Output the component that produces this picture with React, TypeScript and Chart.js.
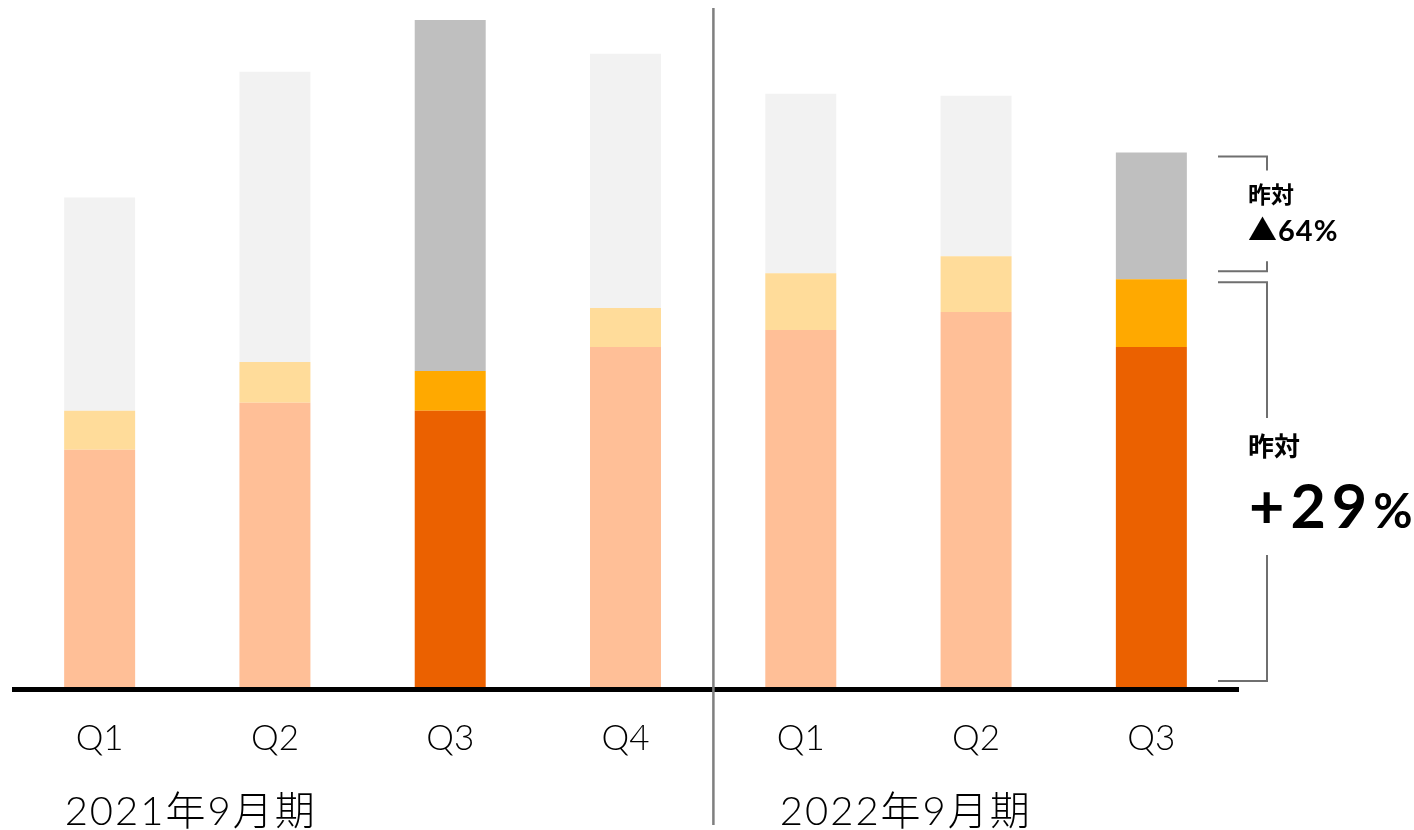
import React, { useEffect, useRef } from "react";
import { Chart, registerables } from "chart.js";

Chart.register(...registerables);

const quarters = ["Q1", "Q2", "Q3", "Q4", "Q1", "Q2", "Q3"];
const baseValues = [238, 285, 277, 341, 358, 376, 341];
const midValues = [39, 41, 40, 39, 57, 56, 68];
const topValues = [214, 291, 352, 255, 180, 161, 127];
const highlighted = [false, false, true, false, false, false, true];
const periodLabels = ["2021年9月期", "2022年9月期"];
const yoyTopLabel = ["昨対", "▲64%"];
const yoyBottomLabel = ["昨対", "+29", "%"];

const baseColor = highlighted.map((h) => (h ? "#EB6100" : "#FFBF97"));
const midColor = highlighted.map((h) => (h ? "#FFA900" : "#FFDC9A"));
const topColor = highlighted.map((h) => (h ? "#BFBFBF" : "#F2F2F2"));

const LATIN = "Lato, 'Noto Sans CJK JP', sans-serif";
const CJK = "'Noto Sans CJK JP', Lato, sans-serif";

const overlay = {
  id: "overlay",
  afterDatasetsDraw(chart: any) {
    const { ctx, chartArea } = chart;
    const x = chart.scales.x;
    const y = chart.scales.y;
    const base = y.getPixelForValue(0);
    ctx.save();
    // axis line
    ctx.fillStyle = "#000";
    ctx.fillRect(chartArea.left, base, chartArea.right - chartArea.left, 5);
    // divider between periods
    const divX = (x.getPixelForValue(3) + x.getPixelForValue(4)) / 2;
    ctx.fillStyle = "#7f7f7f";
    ctx.fillRect(divX - 1, 8, 2.5, 817);

    // period labels
    ctx.fillStyle = "#000";
    ctx.textBaseline = "alphabetic";
    ctx.textAlign = "left";
    ctx.font = `300 40px ${LATIN}`;
    (ctx as any).letterSpacing = "2px";
    ctx.fillText(periodLabels[0], x.getPixelForValue(0) - 35, 825);
    ctx.fillText(periodLabels[1], x.getPixelForValue(4) - 21, 825);
    (ctx as any).letterSpacing = "0px";

    // brackets
    const i = 6;
    const total = baseValues[i] + midValues[i] + topValues[i];
    const orangeTop = y.getPixelForValue(baseValues[i] + midValues[i]);
    const grayTop = y.getPixelForValue(total);
    const bx0 = chartArea.right - 21;
    const bx1 = chartArea.right + 28;
    ctx.strokeStyle = "#6f6f6f";
    ctx.lineWidth = 2;
    const seg = (pts: number[][]) => {
      ctx.beginPath();
      ctx.moveTo(pts[0][0], pts[0][1]);
      for (let k = 1; k < pts.length; k++) ctx.lineTo(pts[k][0], pts[k][1]);
      ctx.stroke();
    };
    const t1 = grayTop + 4;
    const b1 = orangeTop - 8;
    seg([[bx0, t1], [bx1, t1], [bx1, t1 + 14]]);
    seg([[bx1, b1 - 10], [bx1, b1], [bx0, b1]]);
    const t2 = orangeTop + 3;
    const b2 = base - 6;
    seg([[bx0, t2], [bx1, t2], [bx1, 418]]);
    seg([[bx1, 555], [bx1, b2], [bx0, b2]]);

    // yoy texts
    const tx = chartArea.right + 9;
    ctx.fillStyle = "#000";
    ctx.font = `bold 23px ${CJK}`;
    ctx.fillText(yoyTopLabel[0], tx, 203);
    ctx.font = `bold 29px ${LATIN}`;
    (ctx as any).letterSpacing = "1px";
    ctx.fillText(yoyTopLabel[1], tx, 241);
    (ctx as any).letterSpacing = "0px";
    ctx.font = `bold 26px ${CJK}`;
    ctx.fillText(yoyBottomLabel[0], tx, 456);
    ctx.font = `bold 61px ${LATIN}`;
    (ctx as any).letterSpacing = "6px";
    ctx.fillText(yoyBottomLabel[1], tx + 1, 528);
    const w = ctx.measureText(yoyBottomLabel[1]).width;
    (ctx as any).letterSpacing = "0px";
    ctx.font = `bold 48px ${LATIN}`;
    ctx.fillText(yoyBottomLabel[2], tx + 1 + w, 528);
    ctx.restore();
  },
};

export default function App() {
  const ref = useRef<HTMLCanvasElement>(null);
  useEffect(() => {
    document.body.style.margin = "0";
    const chart = new Chart(ref.current!, {
      type: "bar",
      data: {
        labels: quarters,
        datasets: [
          { data: baseValues, backgroundColor: baseColor },
          { data: midValues, backgroundColor: midColor },
          { data: topValues, backgroundColor: topColor },
        ],
      },
      options: {
        animation: false,
        responsive: false,
        maintainAspectRatio: false,
        layout: { padding: { left: 12, right: 175, top: 8, bottom: 0 } },
        plugins: { legend: { display: false }, tooltip: { enabled: false } },
        datasets: { bar: { categoryPercentage: 1, barPercentage: 0.405 } },
        scales: {
          x: {
            stacked: true,
            grid: { display: false, drawTicks: false },
            border: { display: false },
            ticks: {
              color: "#000",
              font: { family: LATIN, size: 35, weight: "300" as any },
              padding: 31,
              maxRotation: 0,
              autoSkip: false,
            },
            afterFit: (s: any) => {
              s.height = 143;
            },
          },
          y: { stacked: true, display: false, min: 0, max: 681 },
        },
      },
      plugins: [overlay],
    });
    return () => chart.destroy();
  }, []);
  return (
    <div style={{ position: "absolute", left: 0, top: 0, width: 1414, height: 830 }}>
      <canvas ref={ref} width={1414} height={830} />
    </div>
  );
}
